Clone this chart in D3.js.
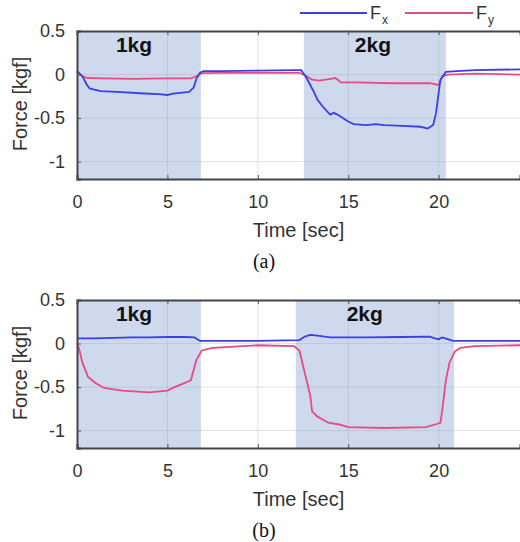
<!DOCTYPE html>
<html><head><meta charset="utf-8">
<script src="https://cdn.jsdelivr.net/npm/d3@7"></script>
<style>body{margin:0;background:#fff}svg{display:block}</style>
</head><body><svg id="c" width="520" height="542"></svg>
<script>
// ---- data ----
const xTicks = [0, 5, 10, 15, 20];
const yTicks = [0.5, 0, -0.5, -1];
const yTickLabels = ["0.5", "0", "-0.5", "-1"];
const seriesNames = ["Fx", "Fy"];

// panel (a)
const aShade = [{x0: 0, x1: 6.85, label: "1kg"}, {x0: 12.55, x1: 20.4, label: "2kg"}];
const aFxT = [0, 0.3, 0.55, 0.7, 0.9, 1.3, 2.2, 3.5, 4.5, 5.0, 5.3, 5.7, 6.2, 6.45, 6.6, 6.8, 7.0, 8, 10, 12, 12.4, 12.7, 12.9, 13.1, 13.3, 13.6, 14.0, 14.2, 14.4, 14.7, 15.0, 15.3, 16, 16.5, 17, 18, 19, 19.4, 19.7, 19.85, 19.95, 20.1, 20.4, 21, 22, 24.5];
const aFxV = [0.04, -0.02, -0.12, -0.16, -0.17, -0.19, -0.2, -0.215, -0.225, -0.235, -0.22, -0.21, -0.2, -0.15, -0.05, 0.02, 0.04, 0.04, 0.045, 0.05, 0.05, -0.04, -0.12, -0.2, -0.29, -0.37, -0.46, -0.44, -0.46, -0.5, -0.54, -0.57, -0.58, -0.57, -0.58, -0.59, -0.6, -0.62, -0.58, -0.45, -0.29, -0.06, 0.03, 0.04, 0.05, 0.06];
const aFyT = [0, 0.3, 0.6, 1.5, 3, 5, 6.3, 6.6, 6.9, 8, 10, 12.3, 12.7, 13.0, 13.4, 14.0, 14.3, 14.6, 15.5, 16.5, 17.5, 18.5, 19.5, 20.0, 20.2, 20.5, 22, 24.5];
const aFyV = [0.03, -0.02, -0.04, -0.045, -0.05, -0.045, -0.045, -0.02, 0.015, 0.02, 0.02, 0.02, -0.02, -0.06, -0.07, -0.05, -0.04, -0.09, -0.09, -0.095, -0.1, -0.1, -0.1, -0.12, -0.02, 0.0, 0.01, 0.0];

// panel (b)
const bShade = [{x0: 0, x1: 6.85, label: "1kg"}, {x0: 12.1, x1: 20.85, label: "2kg"}];
const bFxT = [0, 1, 2, 3, 4, 5, 6, 6.5, 6.8, 7.5, 10, 12.3, 12.6, 12.9, 13.3, 14, 16, 18, 19.5, 19.8, 20.0, 20.2, 20.5, 20.8, 22, 24.5];
const bFxV = [0.06, 0.06, 0.065, 0.07, 0.07, 0.075, 0.075, 0.07, 0.03, 0.03, 0.03, 0.04, 0.08, 0.1, 0.09, 0.07, 0.07, 0.075, 0.08, 0.06, 0.05, 0.07, 0.05, 0.03, 0.03, 0.03];
const bFyT = [0, 0.1, 0.3, 0.6, 1.0, 1.5, 2.5, 4, 5, 5.3, 6, 6.3, 6.6, 6.9, 7.5, 10, 12, 12.3, 12.6, 12.9, 13.0, 13.3, 13.9, 14.5, 15, 17, 19.3, 19.8, 20.1, 20.2, 20.4, 20.6, 20.9, 21.2, 22, 24.5];
const bFyV = [0.01, -0.05, -0.22, -0.38, -0.45, -0.51, -0.54, -0.56, -0.54, -0.51, -0.45, -0.42, -0.19, -0.08, -0.05, -0.02, -0.03, -0.08, -0.34, -0.6, -0.78, -0.84, -0.91, -0.93, -0.96, -0.97, -0.96, -0.93, -0.91, -0.76, -0.42, -0.22, -0.09, -0.05, -0.03, -0.02];

const colors = {Fx: "#3a3fe6", Fy: "#e84a82"};
const shadeColor = "#cfd9ee";

const svg = d3.select("#c");
const font = "'Liberation Sans', Arial, sans-serif";

function panel(top, shade, fx, fy, caption) {
  const L = 77, R = 520, T = top, B = top + 148;
  const x = d3.scaleLinear().domain([0, 24.5]).range([L, R]);
  const y = d3.scaleLinear().domain([-1.2, 0.5]).range([B, T]);
  const g = svg.append("g");
  g.selectAll("rect.sh").data(shade).join("rect")
    .attr("x", d => x(d.x0)).attr("width", d => x(d.x1) - x(d.x0))
    .attr("y", T).attr("height", B - T).attr("fill", shadeColor);
  // grid
  g.selectAll("line.gx").data(xTicks.slice(1)).join("line")
    .attr("x1", d => x(d)).attr("x2", d => x(d)).attr("y1", T).attr("y2", B)
    .attr("stroke", "#9aa0aa").attr("stroke-opacity", 0.3).attr("stroke-width", 1);
  g.selectAll("line.gy").data(yTicks.slice(1)).join("line")
    .attr("x1", L).attr("x2", R).attr("y1", d => y(d)).attr("y2", d => y(d))
    .attr("stroke", "#9aa0aa").attr("stroke-opacity", 0.3).attr("stroke-width", 1);
  // labels in shades
  g.selectAll("text.sl").data(shade).join("text")
    .attr("x", d => x(d.x0) + (d.x0 === 0 ? 57 : 69)).attr("y", T + 21)
    .attr("text-anchor", "middle").attr("font-family", font).attr("font-weight", "bold")
    .attr("font-size", 21).attr("fill", "#111").text(d => d.label);
  const line = d3.line().x(d => x(d[0])).y(d => y(d[1]));
  g.append("path").datum(d3.zip(fy[0], fy[1])).attr("d", line)
    .attr("fill", "none").attr("stroke", colors.Fy).attr("stroke-width", 1.8);
  g.append("path").datum(d3.zip(fx[0], fx[1])).attr("d", line)
    .attr("fill", "none").attr("stroke", colors.Fx).attr("stroke-width", 1.8);
  // axes
  const ax = g.append("g").attr("transform", `translate(0,${B})`)
    .call(d3.axisBottom(x).tickValues(xTicks).tickSize(-4).tickPadding(16).tickFormat(d3.format("d")));
  const ay = g.append("g").attr("transform", `translate(${L},0)`)
    .call(d3.axisLeft(y).tickValues(yTicks).tickSize(-4).tickPadding(12).tickFormat((d, i) => yTickLabels[i]));
  const axTop = g.append("g").attr("transform", `translate(0,${T})`)
    .call(d3.axisTop(x).tickValues(xTicks).tickSize(-4).tickFormat(""));
  [ax, ay, axTop].forEach(a => {
    a.select(".domain").attr("stroke", "#444").attr("stroke-width", 2);
    a.selectAll(".tick line").attr("stroke", "#555");
    a.selectAll("text").attr("font-family", font).attr("font-size", 18).attr("fill", "#333");
  });
  // axis titles
  g.append("text").attr("x", (L + R) / 2).attr("y", B + 58).attr("text-anchor", "middle")
    .attr("font-family", font).attr("font-size", 20).attr("fill", "#333").text("Time [sec]");
  g.append("text").attr("transform", `translate(27,${(T + B) / 2 - 1}) rotate(-90)`)
    .attr("text-anchor", "middle").attr("font-family", font).attr("font-size", 20)
    .attr("fill", "#333").text("Force [kgf]");
  g.append("text").attr("x", 264).attr("y", B + 89).attr("text-anchor", "middle")
    .attr("font-family", "'Liberation Serif', 'Times New Roman', serif").attr("font-size", 20)
    .attr("fill", "#111").text(caption);
}

panel(31, aShade, [aFxT, aFxV], [aFyT, aFyV], "(a)");
panel(300, bShade, [bFxT, bFxV], [bFyT, bFyV], "(b)");

// legend
const leg = svg.append("g");
const legItems = [{n: "Fx", x0: 300, x1: 367, sub: "x"}, {n: "Fy", x0: 405, x1: 473, sub: "y"}];
legItems.forEach(it => {
  leg.append("line").attr("x1", it.x0).attr("x2", it.x1).attr("y1", 13).attr("y2", 13)
    .attr("stroke", colors[it.n]).attr("stroke-width", 2);
  const t = leg.append("text").attr("x", it.x1 + 3).attr("y", 19).attr("font-family", font)
    .attr("font-size", 18).attr("fill", "#333");
  t.append("tspan").text("F");
  t.append("tspan").attr("dy", 5).attr("dx", 1).attr("font-size", 12).text(it.sub);
});
</script></body></html>
